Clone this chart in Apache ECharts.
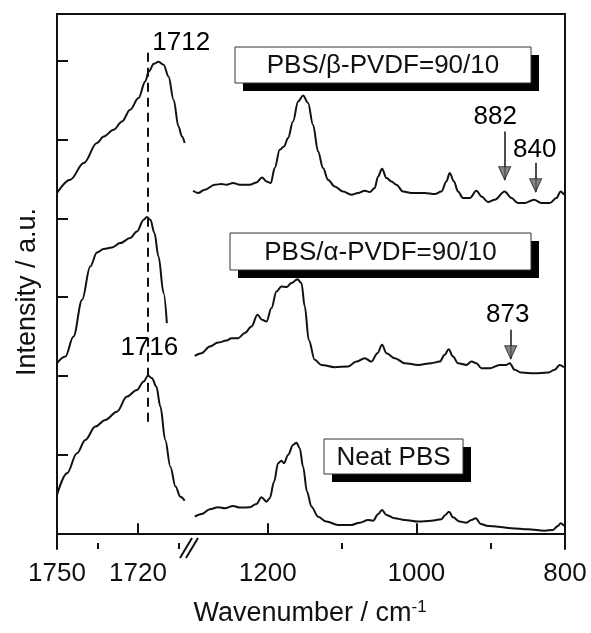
<!DOCTYPE html>
<html><head><meta charset="utf-8">
<script src="https://cdn.jsdelivr.net/npm/echarts@6/dist/echarts.min.js"></script>
<style>html,body{margin:0;padding:0;background:#fff}#c{width:591px;height:633px}</style>
</head><body><div id="c"></div>
<script>
// ---------- data (wavenumber in cm-1, intensity in a.u., spectra offset) ----------
const betaLeftWn  = [1750.0,1745.1,1740.1,1735.2,1732.7,1729.0,1725.9,1722.9,1719.8,1717.3,1716.0,1714.1,1712.4,1710.5,1708.7,1706.8,1705.0,1703.7,1702.7];
const betaLeftI   = [43.24,44.93,47.06,49.60,50.44,51.29,52.35,53.84,55.32,57.43,58.71,59.68,59.94,59.56,58.07,55.11,51.71,50.44,49.60];
const alphaLeftWn = [1750.0,1746.9,1743.9,1740.7,1737.7,1735.2,1732.7,1729.6,1726.6,1722.9,1720.4,1717.9,1716.7,1715.4,1713.9,1712.4,1710.5,1709.3];
const alphaLeftI  = [21.62,22.46,25.00,29.67,33.91,35.69,36.12,36.32,36.88,37.52,38.36,39.85,40.19,39.85,38.15,35.18,30.52,26.71];
const neatLeftWn  = [1750.0,1746.3,1742.6,1739.5,1735.8,1732.1,1727.8,1724.1,1720.4,1717.9,1716.3,1714.8,1713.2,1711.7,1709.9,1708.0,1706.1,1704.3,1702.7];
const neatLeftI   = [4.87,7.63,10.17,11.87,13.56,14.41,15.46,17.37,18.22,19.28,20.04,19.71,18.64,16.10,11.87,8.47,5.93,4.65,4.15];

const betaRightWn = [1300.5,1293.8,1284.8,1271.3,1262.3,1255.6,1246.7,1237.7,1224.2,1215.2,1207.7,1201.7,1196.0,1190.6,1183.9,1178.1,1172.7,1166.0,1159.2,1152.5,1145.8,1139.1,1132.3,1125.6,1118.9,1109.9,1098.7,1087.4,1078.5,1069.5,1062.8,1056.1,1051.6,1046.2,1040.3,1033.6,1026.9,1018.0,1006.7,988.8,975.3,966.3,959.6,955.2,949.4,944.0,937.3,928.2,919.2,912.5,903.6,894.6,881.2,872.1,863.3,854.3,841.7,831.8,820.6,811.6,805.8,801.4];
const betaRightI  = [43.53,43.24,43.66,44.30,44.39,44.30,44.51,44.30,44.30,44.59,45.23,44.72,44.51,46.42,48.75,49.17,50.24,52.35,54.89,55.65,54.69,51.93,48.53,46.42,44.93,44.08,43.44,43.03,43.24,43.53,43.37,43.88,45.35,46.33,45.15,44.72,44.30,43.44,43.24,43.24,43.11,43.44,44.72,45.78,44.72,43.44,42.61,42.61,43.53,42.81,42.10,42.39,43.44,42.61,41.97,41.97,42.39,41.97,41.97,42.61,43.44,43.03];
const alphaRightWn = [1298.2,1289.2,1278.0,1266.9,1255.6,1248.8,1240.0,1230.9,1221.9,1213.9,1207.7,1201.7,1195.0,1188.3,1181.6,1174.8,1168.1,1160.0,1154.7,1150.2,1144.8,1136.8,1127.8,1109.9,1092.0,1080.7,1069.5,1060.5,1052.4,1046.2,1040.3,1029.1,1015.7,997.8,979.8,968.6,961.9,956.5,950.7,944.0,932.7,925.9,919.2,912.5,901.3,887.9,878.9,874.4,867.7,858.7,840.8,822.9,813.9,807.2,801.4];
const alphaRightI  = [22.55,22.89,23.73,24.24,24.49,24.80,24.80,25.44,26.28,27.76,27.13,26.91,28.62,30.73,31.36,31.29,31.80,32.30,31.80,28.82,24.58,22.04,21.40,21.11,21.19,21.82,22.26,21.82,22.89,23.95,22.89,22.26,21.62,21.40,21.62,21.82,22.68,23.40,22.46,21.62,21.40,21.82,21.62,20.98,20.98,21.40,21.40,21.62,20.77,20.42,20.35,20.42,20.77,21.40,21.11];
const neatRightWn = [1298.2,1289.2,1278.0,1266.9,1257.8,1246.7,1237.7,1224.2,1215.2,1208.5,1201.7,1197.3,1191.5,1186.1,1181.6,1178.1,1172.7,1166.0,1161.4,1157.0,1152.5,1147.2,1141.2,1132.3,1121.0,1105.4,1087.4,1076.2,1065.1,1058.3,1051.6,1046.2,1040.3,1029.1,1015.7,997.8,979.8,966.3,961.0,956.1,950.7,941.7,932.7,925.9,920.2,913.4,903.6,890.2,872.2,849.8,827.4,816.3,809.6,805.8,801.4];
const neatRightI  = [2.11,2.45,3.05,3.31,3.18,3.47,3.26,3.31,3.73,4.58,4.02,4.45,6.56,8.90,9.23,8.90,9.96,11.23,11.52,10.81,8.47,5.29,3.38,2.11,1.48,1.06,1.06,1.35,1.69,1.60,2.42,2.96,2.33,1.91,1.69,1.48,1.60,1.78,2.33,2.75,2.03,1.48,1.35,1.69,1.91,1.18,0.93,0.84,0.64,0.51,0.33,0.42,0.93,1.27,0.93];

// axis ticks / labels
const leftMajorTicks  = [1750, 1720];
const leftMinorTicks  = [1735, 1705];
const rightMajorTicks = [1200, 1000, 800];
const rightMinorTicks = [1100, 900];
const yTicks = [0, 10, 20, 30, 40, 50, 60];

// annotations
const leftNoteText = ['1712', '1716'];
const leftNoteWn   = [1704.0, 1715.8];
const leftNoteI    = [62.36, 23.57];
const rightNoteText = ['882', '840', '873'];
const rightNoteWn   = [893.9, 840.8, 877.1];
const rightNoteI    = [52.94, 48.75, 27.76];
const arrowWn   = [881.2, 839.5, 873.1];
const arrowFrom = [51.08, 47.09, 25.86];
const arrowTo   = [44.93, 43.41, 22.17];
const dashWn = 1716.5, dashTop = 61.08, dashBottom = 13.52;
const sampleNames = ['PBS/β-PVDF=90/10', 'PBS/α-PVDF=90/10', 'Neat PBS'];

// ---------- layout ----------
const FONT = '"Liberation Sans", Arial, sans-serif';
const G0L = 57, G0W = 132, G1L = 189, G1W = 376, GT = 14, GH = 535;
const leftMin = 1701.1, leftMax = 1750, rightMin = 800, rightMax = 1306;
const yMin = -2, yMax = 66;
const INK = '#111';

const zip = (a, b) => a.map((v, i) => [v, b[i]]);

const chart = echarts.init(document.getElementById('c'), null, {renderer: 'canvas'});

const lineSeries = (wn, I, side) => ({
  type: 'line', xAxisIndex: side === 0 ? 0 : 3, yAxisIndex: side === 0 ? 0 : 1,
  data: zip(wn, I), showSymbol: false, smooth: 0.35, smoothMonotone: 'x',
  lineStyle: {color: INK, width: 2}, silent: true, clip: false
});

const noteSeries = (wn, I, txt, side) => ({
  type: 'scatter', xAxisIndex: side === 0 ? 0 : 3, yAxisIndex: side === 0 ? 0 : 1,
  data: wn.map((w, i) => [w, I[i], txt[i]]), symbolSize: 1,
  itemStyle: {color: '#fff', opacity: 1},
  clip: false, silent: true, z: 5,
  label: {show: true, position: 'inside', formatter: p => p.value[2], color: '#000',
          fontSize: 26, fontFamily: FONT, textBorderWidth: 0, opacity: 1}
});

const betaR = lineSeries(betaRightWn, betaRightI, 1);
betaR.markLine = {
  silent: true, symbol: ['none', 'none'], label: {show: false}, animation: false,
  lineStyle: {color: INK, width: 1.5, type: 'solid'},
  data: [0, 1].map(k => [{coord: [arrowWn[k], arrowFrom[k]]}, {coord: [arrowWn[k], arrowTo[k]]}])
};
const alphaR = lineSeries(alphaRightWn, alphaRightI, 1);
alphaR.markLine = {
  silent: true, symbol: ['none', 'none'], label: {show: false}, animation: false,
  lineStyle: {color: INK, width: 1.5, type: 'solid'},
  data: [[{coord: [arrowWn[2], arrowFrom[2]]}, {coord: [arrowWn[2], arrowTo[2]]}]]
};
const alphaL = lineSeries(alphaLeftWn, alphaLeftI, 0);
alphaL.markLine = {
  silent: true, symbol: ['none', 'none'], label: {show: false}, animation: false,
  lineStyle: {color: INK, width: 2, type: [9, 6]},
  data: [[{coord: [dashWn, dashTop]}, {coord: [dashWn, dashBottom]}]]
};

const arrowHeads = {
  type: 'scatter', xAxisIndex: 3, yAxisIndex: 1, silent: true, z: 6,
  data: zip(arrowWn, arrowTo),
  symbol: 'path://M0,0 L10,0 L5,12 Z', symbolSize: [12, 13], symbolOffset: [0, '-50%'],
  itemStyle: {color: '#666', borderColor: '#222', borderWidth: 1}
};

const axisLineStyle = {color: INK, width: 2};
const plainNum = v => String(v);
const xAxisBase = (grid, min, max) => ({
  type: 'value', gridIndex: grid, min, max, inverse: true, splitLine: {show: false}
});

// label boxes (white box with black drop shadow)
function box(cx, cy, w, h, text) {
  const x = cx - w / 2, y = cy - h / 2;
  return {
    type: 'group', children: [
      {type: 'rect', shape: {x: x + 8, y: y + 8, width: w, height: h}, style: {fill: '#000'}},
      {type: 'rect', shape: {x, y, width: w, height: h}, style: {fill: '#fff', stroke: '#333', lineWidth: 1}},
      {type: 'text', x: cx, y: cy + 1, style: {text, font: '26px ' + FONT, fill: INK, align: 'center', verticalAlign: 'middle'}}
    ]
  };
}

const bx = G0L + G0W; // break position
chart.setOption({
  animation: false,
  backgroundColor: '#fff',
  grid: [
    {left: G0L, top: GT, width: G0W, height: GH},
    {left: G1L, top: GT, width: G1W, height: GH}
  ],
  xAxis: [
    Object.assign(xAxisBase(0, leftMin, leftMax), {
      position: 'bottom', axisLine: {lineStyle: axisLineStyle},
      axisTick: {inside: true, length: 10, lineStyle: {width: 2, color: INK}, customValues: leftMajorTicks},
      axisLabel: {customValues: leftMajorTicks, formatter: plainNum, fontSize: 26, fontFamily: FONT, color: INK, margin: 12}
    }),
    Object.assign(xAxisBase(0, leftMin, leftMax), {
      position: 'bottom', axisLine: {show: false},
      axisTick: {inside: true, length: 6, lineStyle: {width: 2, color: INK}, customValues: leftMinorTicks},
      axisLabel: {show: false}
    }),
    Object.assign(xAxisBase(0, leftMin, leftMax), {
      position: 'top', axisLine: {lineStyle: axisLineStyle}, axisTick: {show: false}, axisLabel: {show: false}
    }),
    Object.assign(xAxisBase(1, rightMin, rightMax), {
      position: 'bottom', axisLine: {lineStyle: axisLineStyle},
      axisTick: {inside: true, length: 10, lineStyle: {width: 2, color: INK}, customValues: rightMajorTicks},
      axisLabel: {customValues: rightMajorTicks, formatter: plainNum, fontSize: 26, fontFamily: FONT, color: INK, margin: 12}
    }),
    Object.assign(xAxisBase(1, rightMin, rightMax), {
      position: 'bottom', axisLine: {show: false},
      axisTick: {inside: true, length: 6, lineStyle: {width: 2, color: INK}, customValues: rightMinorTicks},
      axisLabel: {show: false}
    }),
    Object.assign(xAxisBase(1, rightMin, rightMax), {
      position: 'top', axisLine: {lineStyle: axisLineStyle}, axisTick: {show: false}, axisLabel: {show: false}
    })
  ],
  yAxis: [
    {type: 'value', gridIndex: 0, min: yMin, max: yMax, position: 'left',
     axisLine: {show: true, lineStyle: axisLineStyle},
     axisTick: {show: true, inside: true, length: 11, lineStyle: {width: 2, color: INK}, customValues: yTicks},
     axisLabel: {show: false}, splitLine: {show: false}},
    {type: 'value', gridIndex: 1, min: yMin, max: yMax, position: 'right',
     axisLine: {show: true, lineStyle: axisLineStyle}, axisTick: {show: false},
     axisLabel: {show: false}, splitLine: {show: false}}
  ],
  series: [
    lineSeries(betaLeftWn, betaLeftI, 0),
    alphaL,
    lineSeries(neatLeftWn, neatLeftI, 0),
    betaR, alphaR,
    lineSeries(neatRightWn, neatRightI, 1),
    noteSeries(leftNoteWn, leftNoteI, leftNoteText, 0),
    noteSeries(rightNoteWn, rightNoteI, rightNoteText, 1),
    arrowHeads
  ],
  graphic: [
    box(383, 65, 296, 36, sampleNames[0]),
    box(380.5, 251.5, 301, 37, sampleNames[1]),
    box(393.5, 456.5, 139, 35, sampleNames[2]),
    // axis break marks
    {type: 'polygon', shape: {points: [[bx - 9, GT + GH + 9], [bx + 3, GT + GH - 11], [bx + 9, GT + GH - 11], [bx - 3, GT + GH + 9]]}, style: {fill: '#fff'}, z: 50},
    {type: 'line', shape: {x1: bx - 9, y1: GT + GH + 9, x2: bx + 3, y2: GT + GH - 11}, style: {stroke: INK, lineWidth: 2}, z: 51},
    {type: 'line', shape: {x1: bx - 3, y1: GT + GH + 9, x2: bx + 9, y2: GT + GH - 11}, style: {stroke: INK, lineWidth: 2}, z: 51},
    // y axis title
    {type: 'text', x: 28, y: 292, rotation: Math.PI / 2, z: 10,
     style: {text: 'Intensity / a.u.', font: '27px ' + FONT, fill: INK, align: 'center', verticalAlign: 'middle'}},
    // x axis title with superscript
    {type: 'text', x: 310, y: 614, z: 10,
     style: {text: '{a|Wavenumber / cm}{b|-1}', align: 'center', verticalAlign: 'middle', fill: INK,
             rich: {a: {fontSize: 27, fontFamily: FONT, lineHeight: 30, fill: INK},
                    b: {fontSize: 17, fontFamily: FONT, verticalAlign: 'top', lineHeight: 30, fill: INK}}}}
  ]
});
</script>
</body></html>
